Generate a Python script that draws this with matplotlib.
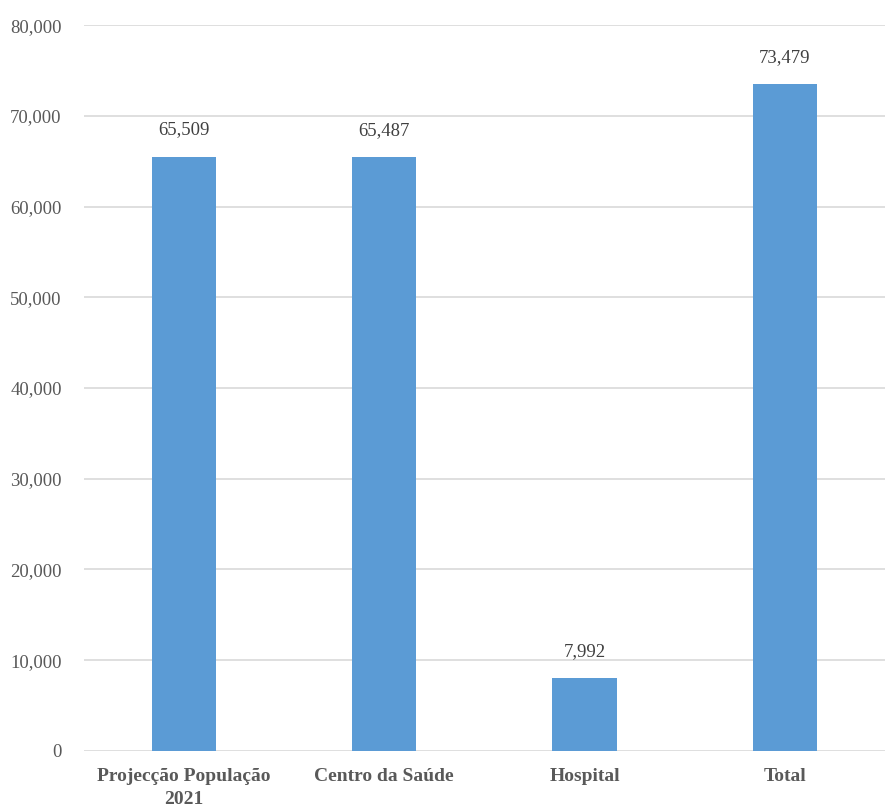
import matplotlib
matplotlib.use("Agg")
import matplotlib.pyplot as plt
from matplotlib.ticker import FuncFormatter

categories = ["Projecção População\n2021", "Centro da Saúde", "Hospital", "Total"]
values = [65509, 65487, 7992, 73479]

plt.rcParams["font.family"] = ["Liberation Serif", "DejaVu Serif"]
txt = "#595959"

fig = plt.figure(figsize=(8.92, 8.10), dpi=100)
ax = fig.add_axes([0.094, 0.073, 0.898, 0.896])

x = range(len(categories))
ax.bar(x, values, width=0.32, color="#5B9BD5", zorder=3)
for xi, v in zip(x, values):
    ax.text(xi, v + 2000, f"{v:,}", ha="center", va="bottom", fontsize=13.5, color="#404040")

ax.set_xlim(-0.5, len(categories) - 0.5)
ax.set_ylim(0, 80000)
ax.set_yticks(range(0, 80001, 10000))
ax.yaxis.set_major_formatter(FuncFormatter(lambda v, p: f"{int(v):,}"))
ax.set_xticks(list(x))
ax.set_xticklabels(categories, fontsize=14, fontweight="bold", color=txt, linespacing=1.5)
ax.tick_params(axis="y", labelsize=13.5, labelcolor=txt, length=0, pad=16)
ax.tick_params(axis="x", length=0, pad=12)
ax.grid(axis="y", color="#d9d9d9", lw=1.2, zorder=0)
for s in ax.spines.values():
    s.set_visible(False)

fig.savefig("out.png", dpi=100)
